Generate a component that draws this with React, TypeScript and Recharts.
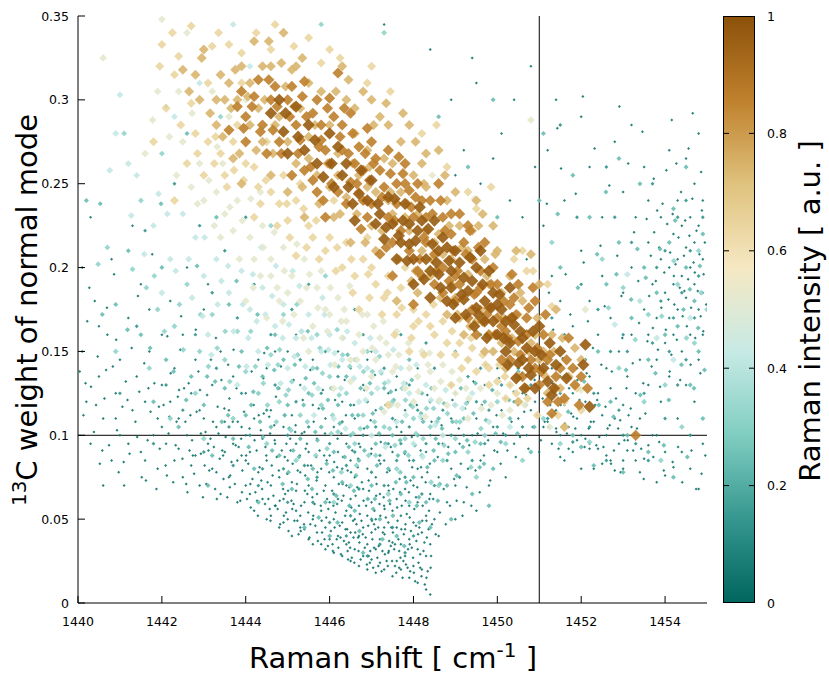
import { ScatterChart, Scatter, XAxis, YAxis, ReferenceLine } from "recharts";

// axis ticks
const xTicks = [1440, 1442, 1444, 1446, 1448, 1450, 1452, 1454];
const yTicks = [0, 0.05, 0.1, 0.15, 0.2, 0.25, 0.3, 0.35];
const cbTicks = [0, 0.2, 0.4, 0.6, 0.8, 1];
const markShift = 1451;
const markWeight = 0.1;

// points as flat x,y lists, grouped by Raman intensity level
const dotsA = [
  1440.1,0.150, 1440.2,0.120, 1440.3,0.095, 1440.4,0.180, 1440.5,0.135, 1440.6,0.110, 1440.7,0.160, 1440.8,0.085,
  1440.9,0.125, 1441.0,0.145, 1441.0,0.100, 1441.1,0.070, 1441.2,0.170, 1441.3,0.115, 1441.4,0.135, 1441.5,0.090,
  1441.5,0.190, 1441.6,0.120, 1441.7,0.150, 1441.8,0.100, 1441.9,0.080, 1442.0,0.130, 1442.0,0.160, 1440.3,0.230,
  1440.1,0.200, 1440.8,0.205, 1441.3,0.225, 1440.6,0.070, 1441.7,0.175, 1441.9,0.110, 1440.9,0.110, 1441.2,0.095,
  1441.6,0.085, 1440.5,0.165,
  1442.1,0.095, 1442.2,0.120, 1442.3,0.085, 1442.3,0.140, 1442.4,0.110, 1442.5,0.075, 1442.5,0.160, 1442.6,0.100,
  1442.7,0.125, 1442.8,0.088, 1442.8,0.145, 1442.9,0.070, 1443.0,0.110, 1443.0,0.175, 1443.1,0.095, 1443.2,0.130,
  1443.2,0.080, 1443.3,0.105, 1443.4,0.065, 1443.4,0.150, 1443.5,0.090, 1443.6,0.115, 1443.6,0.075, 1443.7,0.135,
  1443.8,0.085, 1443.8,0.060, 1443.9,0.105, 1444.0,0.070, 1444.0,0.125, 1442.2,0.180, 1442.6,0.200, 1443.1,0.190,
  1442.9,0.115, 1443.5,0.108, 1442.4,0.092, 1443.7,0.095, 1442.7,0.082, 1443.3,0.078, 1443.9,0.088, 1442.0,0.105,
  1444.0,0.100,
  1444.1,0.065, 1444.1,0.090, 1444.2,0.110, 1444.2,0.055, 1444.3,0.078, 1444.3,0.125, 1444.4,0.062, 1444.4,0.098,
  1444.5,0.050, 1444.5,0.085, 1444.5,0.140, 1444.6,0.070, 1444.6,0.115, 1444.7,0.058, 1444.7,0.095, 1444.8,0.045,
  1444.8,0.075, 1444.8,0.128, 1444.9,0.062, 1444.9,0.105, 1445.0,0.050, 1445.0,0.085, 1445.0,0.150, 1445.1,0.040,
  1445.1,0.072, 1445.1,0.112, 1445.2,0.055, 1445.2,0.095, 1445.3,0.045, 1445.3,0.078, 1445.3,0.130, 1445.4,0.060,
  1445.4,0.102, 1445.5,0.038, 1445.5,0.070, 1445.5,0.090, 1445.6,0.050, 1445.6,0.118, 1445.7,0.042, 1445.7,0.065,
  1445.7,0.098, 1445.8,0.035, 1445.8,0.055, 1445.8,0.080, 1445.9,0.045, 1445.9,0.070, 1445.9,0.110, 1446.0,0.038,
  1446.0,0.060, 1446.0,0.088, 1444.3,0.145, 1444.7,0.150, 1445.2,0.160, 1445.6,0.145, 1444.0,0.085, 1444.9,0.048,
  1445.4,0.044, 1445.6,0.035, 1445.2,0.067, 1445.9,0.032, 1444.6,0.052, 1445.3,0.052,
  1446.1,0.030, 1446.1,0.050, 1446.1,0.075, 1446.1,0.105, 1446.2,0.040, 1446.2,0.062, 1446.2,0.090, 1446.3,0.028,
  1446.3,0.048, 1446.3,0.080, 1446.3,0.120, 1446.4,0.035, 1446.4,0.055, 1446.4,0.070, 1446.4,0.095, 1446.5,0.025,
  1446.5,0.042, 1446.5,0.062, 1446.5,0.085, 1446.5,0.140, 1446.6,0.032, 1446.6,0.050, 1446.6,0.075, 1446.6,0.110,
  1446.7,0.022, 1446.7,0.040, 1446.7,0.058, 1446.7,0.095, 1446.8,0.028, 1446.8,0.045, 1446.8,0.068, 1446.8,0.130,
  1446.9,0.020, 1446.9,0.035, 1446.9,0.052, 1446.9,0.080, 1447.0,0.026, 1447.0,0.042, 1447.0,0.060, 1447.0,0.092,
  1447.1,0.018, 1447.1,0.032, 1447.1,0.050, 1447.1,0.075, 1447.1,0.115, 1447.2,0.024, 1447.2,0.038, 1447.2,0.065,
  1447.2,0.100, 1447.3,0.020, 1447.3,0.045, 1447.3,0.058, 1447.3,0.085, 1447.4,0.030, 1447.4,0.048, 1447.4,0.070,
  1447.4,0.125, 1447.5,0.016, 1447.5,0.036, 1447.5,0.055, 1447.5,0.090, 1447.6,0.025, 1447.6,0.045, 1447.6,0.062,
  1447.6,0.105, 1447.7,0.020, 1447.7,0.035, 1447.7,0.052, 1447.7,0.078, 1447.8,0.028, 1447.8,0.044, 1447.8,0.068,
  1447.8,0.115, 1447.9,0.015, 1447.9,0.038, 1447.9,0.058, 1447.9,0.085, 1448.0,0.022, 1448.0,0.048, 1448.0,0.070,
  1448.0,0.095, 1448.1,0.012, 1448.1,0.032, 1448.1,0.060, 1448.1,0.080, 1448.2,0.020, 1448.2,0.042, 1448.2,0.075,
  1448.2,0.110, 1448.3,0.008, 1448.3,0.028, 1448.3,0.052, 1448.3,0.090, 1448.4,0.005, 1448.4,0.035, 1448.4,0.065,
  1448.4,0.100, 1446.2,0.150, 1446.9,0.145, 1447.6,0.135, 1448.1,0.140, 1447.0,0.150,
  1448.5,0.050, 1448.6,0.075, 1448.6,0.040, 1448.7,0.095, 1448.8,0.060, 1448.9,0.080, 1448.9,0.110, 1449.0,0.050,
  1449.0,0.070, 1449.1,0.095, 1449.2,0.060, 1449.3,0.080, 1449.3,0.120, 1449.4,0.100, 1449.5,0.055, 1449.5,0.110,
  1449.6,0.085, 1449.7,0.130, 1449.8,0.070, 1449.9,0.105, 1450.0,0.090, 1450.0,0.140, 1450.1,0.115, 1450.2,0.075,
  1450.3,0.130, 1450.4,0.095, 1450.5,0.110, 1450.6,0.125, 1450.7,0.100, 1450.8,0.115, 1450.9,0.120, 1449.2,0.270,
  1449.6,0.250, 1449.9,0.265, 1450.3,0.240, 1450.6,0.230, 1450.9,0.260, 1450.4,0.300, 1449.5,0.310, 1448.9,0.300,
  1450.8,0.320, 1450.1,0.280, 1449.0,0.255, 1450.7,0.205, 1447.3,0.345, 1448.4,0.330, 1449.4,0.325,
  1451.1,0.105, 1451.1,0.150, 1451.2,0.108, 1451.2,0.125, 1451.3,0.095, 1451.3,0.140, 1451.4,0.104, 1451.4,0.115,
  1451.5,0.100, 1451.5,0.135, 1451.6,0.085, 1451.6,0.118, 1451.7,0.092, 1451.7,0.105, 1451.8,0.125, 1451.8,0.090,
  1451.9,0.110, 1451.9,0.140, 1452.0,0.080, 1452.0,0.100, 1452.1,0.120, 1452.1,0.098, 1452.2,0.095, 1452.2,0.135,
  1452.3,0.108, 1452.3,0.080, 1452.4,0.125, 1452.4,0.092, 1452.5,0.083, 1452.5,0.112, 1452.6,0.100, 1452.6,0.140,
  1452.7,0.085, 1452.7,0.128, 1452.8,0.110, 1452.8,0.079, 1452.9,0.095, 1452.9,0.150, 1453.0,0.118, 1453.0,0.080,
  1453.1,0.135, 1453.1,0.091, 1453.2,0.105, 1453.2,0.160, 1453.3,0.125, 1453.3,0.085, 1453.4,0.145, 1453.4,0.110,
  1453.5,0.175, 1453.5,0.086, 1453.6,0.160, 1453.6,0.130, 1453.7,0.190, 1453.7,0.100, 1453.8,0.170, 1453.8,0.145,
  1453.9,0.205, 1453.9,0.120, 1454.0,0.185, 1454.0,0.155, 1454.0,0.090, 1454.1,0.200, 1454.1,0.170, 1454.1,0.135,
  1454.2,0.220, 1454.2,0.190, 1454.2,0.160, 1454.3,0.205, 1454.3,0.175, 1454.3,0.110, 1454.4,0.225, 1454.4,0.195,
  1454.4,0.150, 1454.5,0.212, 1454.5,0.182, 1454.5,0.130, 1454.6,0.230, 1454.6,0.200, 1454.6,0.160, 1454.7,0.215,
  1454.7,0.190, 1454.7,0.120, 1454.8,0.225, 1454.8,0.175, 1454.8,0.145, 1454.9,0.205, 1454.9,0.185, 1454.9,0.160,
  1453.6,0.215, 1453.9,0.230, 1454.3,0.240, 1454.7,0.250, 1453.2,0.200, 1453.0,0.185, 1452.7,0.170, 1452.4,0.160,
  1452.2,0.180, 1451.8,0.165, 1451.5,0.180, 1451.3,0.195, 1452.0,0.210, 1452.5,0.230, 1453.0,0.245, 1453.5,0.260,
  1454.1,0.270, 1454.8,0.280, 1452.8,0.275, 1452.2,0.260, 1451.6,0.240, 1451.2,0.270, 1451.4,0.300, 1452.0,0.290,
  1453.2,0.285, 1451.1,0.225, 1453.0,0.085, 1453.4,0.078, 1453.8,0.072, 1454.2,0.081, 1454.6,0.080, 1454.9,0.095,
  1452.6,0.088, 1452.2,0.092, 1451.9,0.097, 1454.4,0.090, 1454.0,0.076, 1453.6,0.094, 1451.5,0.087, 1454.8,0.068,
  1451.0,0.090, 1451.0,0.130, 1452.5,0.195, 1453.3,0.230, 1453.6,0.240, 1454.9,0.240, 1454.5,0.265, 1453.8,0.100,
];

const dotsA2 = [
  1440.04,0.138, 1440.13,0.112, 1440.22,0.168, 1440.31,0.129, 1440.38,0.102, 1440.47,0.147, 1440.52,0.083, 1440.63,0.122,
  1440.69,0.176, 1440.74,0.094, 1440.83,0.141, 1440.91,0.157, 1440.97,0.078, 1441.06,0.117, 1441.14,0.132, 1441.23,0.089,
  1441.28,0.152, 1441.37,0.108, 1441.46,0.126, 1441.52,0.075, 1441.58,0.143, 1441.66,0.097, 1441.73,0.114, 1441.82,0.131,
  1441.87,0.068, 1441.95,0.092, 1440.27,0.188, 1440.86,0.196, 1441.43,0.183, 1441.77,0.208,
  1442.04,0.118, 1442.09,0.082, 1442.16,0.101, 1442.21,0.137, 1442.27,0.072, 1442.33,0.094, 1442.38,0.123, 1442.44,0.151,
  1442.49,0.086, 1442.56,0.108, 1442.61,0.066, 1442.64,0.131, 1442.72,0.097, 1442.77,0.077, 1442.83,0.114, 1442.87,0.138,
  1442.93,0.089, 1442.98,0.063, 1443.04,0.102, 1443.08,0.124, 1443.13,0.079, 1443.17,0.145, 1443.24,0.093, 1443.27,0.068,
  1443.33,0.117, 1443.38,0.086, 1443.42,0.133, 1443.47,0.074, 1443.52,0.099, 1443.56,0.063, 1443.61,0.122, 1443.66,0.084,
  1443.69,0.108, 1443.74,0.071, 1443.78,0.128, 1443.83,0.093, 1443.87,0.061, 1443.92,0.079, 1443.96,0.114, 1442.46,0.171,
  1442.81,0.163, 1443.29,0.158, 1443.71,0.151, 1442.13,0.159, 1443.58,0.142, 1443.02,0.082, 1442.68,0.112, 1442.35,0.108,
  1443.44,0.091, 1443.89,0.098, 1443.22,0.108, 1442.91,0.127, 1442.53,0.128, 1443.63,0.076, 1443.11,0.091, 1442.74,0.088,
  1443.35,0.101, 1443.81,0.108, 1443.49,0.116,
  1444.03,0.062, 1444.06,0.083, 1444.09,0.104, 1444.12,0.057, 1444.16,0.074, 1444.19,0.118, 1444.23,0.066, 1444.26,0.091,
  1444.29,0.052, 1444.33,0.081, 1444.36,0.103, 1444.39,0.068, 1444.42,0.134, 1444.46,0.059, 1444.49,0.088, 1444.52,0.072,
  1444.56,0.111, 1444.59,0.049, 1444.62,0.082, 1444.66,0.064, 1444.69,0.097, 1444.72,0.123, 1444.76,0.056, 1444.79,0.079,
  1444.82,0.047, 1444.86,0.091, 1444.89,0.068, 1444.92,0.112, 1444.96,0.054, 1444.99,0.077, 1445.02,0.043, 1445.06,0.098,
  1445.09,0.061, 1445.12,0.083, 1445.16,0.049, 1445.19,0.106, 1445.22,0.071, 1445.26,0.041, 1445.29,0.088, 1445.32,0.058,
  1445.36,0.121, 1445.39,0.047, 1445.42,0.076, 1445.46,0.095, 1445.49,0.054, 1445.52,0.039, 1445.56,0.082, 1445.59,0.063,
  1445.62,0.108, 1445.66,0.046, 1445.69,0.073, 1445.72,0.037, 1445.76,0.091, 1445.79,0.058, 1445.82,0.042, 1445.86,0.067,
  1445.89,0.101, 1445.92,0.051, 1445.96,0.034, 1445.99,0.078, 1444.14,0.138, 1444.44,0.149, 1444.84,0.141, 1445.14,0.133,
  1445.54,0.139, 1445.84,0.127, 1444.58,0.101, 1444.97,0.095, 1445.34,0.101, 1445.74,0.116, 1444.31,0.112, 1444.71,0.058,
  1445.11,0.056, 1445.47,0.065, 1445.87,0.088, 1445.23,0.049, 1445.61,0.052, 1445.94,0.062, 1444.94,0.065, 1444.54,0.062,
  1446.03,0.043, 1446.06,0.067, 1446.08,0.031, 1446.11,0.084, 1446.14,0.054, 1446.17,0.038, 1446.19,0.098, 1446.22,0.071,
  1446.24,0.046, 1446.27,0.029, 1446.29,0.061, 1446.32,0.087, 1446.34,0.037, 1446.37,0.052, 1446.39,0.112, 1446.42,0.044,
  1446.44,0.026, 1446.47,0.069, 1446.49,0.033, 1446.52,0.057, 1446.54,0.091, 1446.57,0.039, 1446.59,0.024, 1446.62,0.064,
  1446.64,0.047, 1446.67,0.081, 1446.69,0.031, 1446.72,0.053, 1446.74,0.026, 1446.77,0.072, 1446.79,0.041, 1446.82,0.104,
  1446.84,0.033, 1446.87,0.058, 1446.89,0.023, 1446.92,0.046, 1446.94,0.067, 1446.97,0.031, 1446.99,0.089, 1447.02,0.038,
  1447.04,0.021, 1447.07,0.055, 1447.09,0.044, 1447.12,0.071, 1447.14,0.027, 1447.17,0.034, 1447.19,0.059, 1447.22,0.096,
  1447.24,0.019, 1447.27,0.042, 1447.29,0.063, 1447.32,0.029, 1447.34,0.051, 1447.37,0.078, 1447.39,0.022, 1447.42,0.037,
  1447.44,0.059, 1447.47,0.045, 1447.49,0.025, 1447.52,0.068, 1447.54,0.032, 1447.57,0.109, 1447.59,0.018, 1447.62,0.049,
  1447.64,0.038, 1447.67,0.074, 1447.69,0.027, 1447.72,0.058, 1447.74,0.015, 1447.77,0.041, 1447.79,0.089, 1447.82,0.023,
  1447.84,0.053, 1447.87,0.032, 1447.89,0.066, 1447.92,0.019, 1447.94,0.043, 1447.97,0.081, 1447.99,0.027, 1448.02,0.056,
  1448.04,0.013, 1448.07,0.037, 1448.09,0.069, 1448.12,0.024, 1448.14,0.045, 1448.17,0.091, 1448.19,0.016, 1448.22,0.058,
  1448.24,0.031, 1448.27,0.011, 1448.29,0.072, 1448.32,0.039, 1448.34,0.019, 1448.37,0.055, 1448.39,0.083, 1448.42,0.028,
  1448.44,0.047, 1446.13,0.121, 1446.36,0.133, 1446.58,0.118, 1446.83,0.127, 1447.08,0.136, 1447.33,0.118, 1447.58,0.127,
  1447.83,0.131, 1448.08,0.118, 1448.33,0.124, 1446.28,0.101, 1446.51,0.078, 1446.73,0.093, 1446.98,0.109, 1447.21,0.083,
  1447.46,0.093, 1447.71,0.102, 1447.96,0.099, 1448.21,0.088, 1448.43,0.108, 1446.09,0.058, 1446.33,0.064, 1446.56,0.049,
  1446.81,0.061, 1447.06,0.047, 1447.31,0.056, 1447.56,0.035, 1447.81,0.047, 1448.06,0.046, 1448.31,0.049, 1446.21,0.033,
  1446.46,0.036, 1446.68,0.039, 1446.93,0.028, 1447.16,0.045, 1447.41,0.031, 1447.66,0.021, 1447.91,0.035, 1448.16,0.029,
  1448.41,0.021,
  1448.47,0.062, 1448.53,0.041, 1448.58,0.087, 1448.63,0.054, 1448.67,0.106, 1448.72,0.068, 1448.77,0.047, 1448.83,0.093,
  1448.87,0.058, 1448.93,0.121, 1448.97,0.074, 1449.03,0.061, 1449.08,0.104, 1449.13,0.083, 1449.17,0.052, 1449.23,0.116,
  1449.27,0.069, 1449.33,0.094, 1449.38,0.058, 1449.43,0.132, 1449.48,0.079, 1449.53,0.101, 1449.58,0.066, 1449.63,0.118,
  1449.68,0.088, 1449.73,0.142, 1449.78,0.097, 1449.83,0.073, 1449.88,0.127, 1449.93,0.091, 1449.98,0.112, 1450.04,0.134,
  1450.08,0.083, 1450.14,0.101, 1450.19,0.122, 1450.24,0.091, 1450.29,0.142, 1450.34,0.108, 1450.39,0.126, 1450.44,0.087,
  1450.49,0.118, 1450.54,0.099, 1450.59,0.137, 1450.64,0.114, 1450.69,0.124, 1450.74,0.092, 1450.79,0.138, 1450.84,0.105,
  1450.89,0.133, 1450.94,0.112,
  1453.62,0.183, 1453.66,0.207, 1453.71,0.164, 1453.74,0.221, 1453.78,0.192, 1453.83,0.151, 1453.86,0.212, 1453.91,0.176,
  1453.94,0.238, 1453.98,0.197, 1454.02,0.163, 1454.05,0.226, 1454.08,0.181, 1454.12,0.209, 1454.15,0.148, 1454.18,0.232,
  1454.22,0.178, 1454.25,0.202, 1454.28,0.157, 1454.32,0.218, 1454.35,0.188, 1454.38,0.245, 1454.42,0.171, 1454.45,0.207,
  1454.48,0.228, 1454.52,0.165, 1454.55,0.193, 1454.58,0.219, 1454.62,0.176, 1454.65,0.241, 1454.68,0.203, 1454.72,0.158,
  1454.75,0.222, 1454.78,0.186, 1454.82,0.208, 1454.85,0.171, 1454.88,0.234, 1454.92,0.196, 1454.95,0.215, 1454.98,0.178,
  1453.68,0.141, 1453.88,0.129, 1454.11,0.138, 1454.36,0.133, 1454.61,0.142, 1454.84,0.137, 1453.73,0.253, 1454.03,0.258,
  1454.27,0.262, 1454.56,0.271, 1454.86,0.257, 1453.56,0.229, 1453.81,0.234, 1454.21,0.195, 1454.46,0.186, 1454.71,0.197,
  1454.91,0.162,
  1451.04,0.097, 1451.08,0.122, 1451.13,0.108, 1451.17,0.143, 1451.22,0.105, 1451.26,0.118, 1451.31,0.131, 1451.36,0.114,
  1451.41,0.102, 1451.46,0.092, 1451.51,0.118, 1451.56,0.146, 1451.61,0.107, 1451.66,0.101, 1451.71,0.128, 1451.76,0.113,
  1451.81,0.111, 1451.86,0.104, 1451.91,0.133, 1451.96,0.121, 1452.03,0.116, 1452.08,0.093, 1452.13,0.137, 1452.18,0.104,
  1452.23,0.108, 1452.28,0.152, 1452.33,0.118, 1452.38,0.121, 1452.43,0.099, 1452.48,0.142, 1452.53,0.093, 1452.58,0.117,
  1452.63,0.104, 1452.68,0.106, 1452.73,0.138, 1452.78,0.091, 1452.83,0.122, 1452.88,0.104, 1452.93,0.109, 1452.98,0.158,
  1453.03,0.097, 1453.08,0.128, 1453.13,0.112, 1453.18,0.116, 1453.23,0.143, 1453.28,0.101, 1453.33,0.104, 1453.38,0.167,
  1453.43,0.092, 1453.48,0.131, 1453.53,0.113, 1453.58,0.156, 1451.33,0.163, 1451.74,0.172, 1452.16,0.168, 1452.56,0.177,
  1452.96,0.183, 1453.36,0.192, 1451.23,0.185, 1451.63,0.196, 1452.06,0.203, 1452.46,0.213, 1452.86,0.207, 1453.26,0.221,
  1451.18,0.238, 1451.52,0.259, 1451.87,0.244, 1452.32,0.271, 1452.67,0.249, 1453.12,0.262, 1453.46,0.281, 1452.04,0.302,
  1451.43,0.283, 1452.91,0.296, 1454.16,0.288, 1454.66,0.292,
  1452.71,0.083, 1452.94,0.078, 1453.24,0.091, 1453.49,0.074, 1453.72,0.087, 1453.97,0.079, 1454.18,0.084, 1454.41,0.072,
  1454.63,0.091, 1454.87,0.077, 1453.86,0.096, 1454.31,0.093, 1454.74,0.068, 1452.36,0.094, 1453.11,0.097, 1454.96,0.088,
];

const dotsA3 = [
  1443.06,0.071, 1443.16,0.098, 1443.31,0.062, 1443.46,0.088, 1443.62,0.069, 1443.76,0.094, 1443.91,0.066, 1444.01,0.088,
  1444.11,0.071, 1444.21,0.097, 1444.27,0.061, 1444.37,0.073, 1444.47,0.093, 1444.57,0.056, 1444.64,0.076, 1444.74,0.087,
  1444.81,0.061, 1444.91,0.052, 1445.01,0.067, 1445.07,0.091, 1445.14,0.059, 1445.24,0.079, 1445.31,0.043, 1445.41,0.067,
  1445.48,0.082, 1445.54,0.047, 1445.64,0.059, 1445.71,0.078, 1445.81,0.049, 1445.88,0.038, 1445.97,0.056, 1446.07,0.035,
  1446.12,0.045, 1446.18,0.059, 1446.26,0.039, 1446.31,0.071, 1446.38,0.044, 1446.43,0.031, 1446.48,0.058, 1446.53,0.027,
  1446.61,0.042, 1446.66,0.069, 1446.71,0.036, 1446.76,0.049, 1446.86,0.039, 1446.91,0.062, 1446.96,0.024, 1447.01,0.049,
  1447.06,0.033, 1447.11,0.064, 1447.16,0.022, 1447.21,0.052, 1447.26,0.031, 1447.31,0.041, 1447.36,0.025, 1447.41,0.067,
  1447.46,0.034, 1447.51,0.042, 1447.56,0.022, 1447.61,0.057, 1447.66,0.031, 1447.71,0.044, 1447.76,0.025, 1447.81,0.061,
  1447.86,0.021, 1447.91,0.051, 1447.96,0.033, 1448.01,0.018, 1448.06,0.063, 1448.11,0.041, 1448.16,0.021, 1448.21,0.049,
  1448.26,0.036, 1448.31,0.015, 1448.36,0.044, 1448.38,0.062, 1448.33,0.078, 1448.18,0.081, 1447.93,0.073, 1447.68,0.066,
  1447.43,0.079, 1447.18,0.085, 1446.93,0.073, 1446.68,0.086, 1446.43,0.079, 1446.18,0.081, 1445.93,0.085, 1445.68,0.087,
  1445.43,0.092, 1445.18,0.102, 1444.93,0.087, 1444.68,0.106, 1444.43,0.113, 1440.18,0.131, 1440.43,0.118, 1440.67,0.139,
  1440.93,0.103, 1441.18,0.121, 1441.41,0.099, 1441.68,0.128, 1441.93,0.117, 1442.18,0.111, 1442.41,0.127, 1442.66,0.091,
  1442.93,0.101, 1440.58,0.091, 1441.09,0.084, 1441.62,0.073, 1442.12,0.076, 1442.58,0.071,
];

const dotsB = [
  1441.0,0.125, 1441.4,0.165, 1441.8,0.095, 1442.1,0.130, 1442.5,0.115, 1442.8,0.160, 1443.0,0.090, 1443.3,0.140,
  1443.6,0.105, 1443.9,0.125, 1444.1,0.100, 1444.3,0.070, 1444.5,0.115, 1444.7,0.130, 1444.9,0.080, 1445.0,0.100,
  1445.2,0.120, 1445.4,0.082, 1445.5,0.105, 1445.7,0.075, 1445.8,0.125, 1446.0,0.095, 1446.1,0.065, 1446.3,0.108,
  1446.4,0.082, 1446.5,0.118, 1446.6,0.090, 1446.7,0.068, 1446.8,0.100, 1446.9,0.120, 1447.0,0.078, 1447.1,0.105,
  1447.2,0.088, 1447.3,0.070, 1447.4,0.095, 1447.5,0.110, 1447.6,0.085, 1447.7,0.095, 1447.8,0.075, 1447.9,0.105,
  1448.0,0.085, 1448.1,0.115, 1448.2,0.065, 1448.3,0.095, 1448.4,0.120, 1448.5,0.070, 1448.6,0.095, 1448.7,0.115,
  1448.8,0.085, 1448.9,0.100, 1449.0,0.125, 1449.1,0.075, 1449.2,0.100, 1449.3,0.135, 1449.4,0.085, 1449.5,0.120,
  1449.6,0.140, 1449.7,0.095, 1449.8,0.115, 1450.0,0.105, 1450.1,0.130, 1450.2,0.100, 1450.4,0.120, 1450.5,0.140,
  1450.6,0.105, 1450.8,0.130, 1450.9,0.145, 1446.2,0.135, 1445.9,0.150, 1445.3,0.145, 1444.6,0.160, 1443.8,0.170,
  1443.2,0.185, 1447.3,0.140, 1447.9,0.130, 1448.5,0.140, 1449.0,0.150, 1446.8,0.160, 1445.1,0.175, 1444.2,0.190,
  1443.5,0.210, 1442.9,0.225, 1442.3,0.250, 1441.6,0.222, 1444.0,0.230, 1445.5,0.190, 1446.6,0.175, 1447.7,0.160,
  1448.3,0.155, 1449.6,0.160, 1450.3,0.155,
  1451.2,0.110, 1451.5,0.125, 1451.8,0.096, 1452.1,0.145, 1452.3,0.125, 1452.6,0.085, 1452.9,0.115, 1453.1,0.150,
  1453.3,0.095, 1453.5,0.125, 1453.7,0.155, 1453.9,0.180, 1454.0,0.210, 1454.2,0.170, 1454.3,0.230, 1454.4,0.185,
  1454.5,0.145, 1454.6,0.210, 1454.7,0.170, 1454.8,0.195, 1454.9,0.230, 1454.1,0.150, 1453.8,0.200, 1453.4,0.180,
  1453.0,0.160, 1452.7,0.150, 1452.4,0.175, 1452.0,0.190, 1451.6,0.160, 1451.3,0.170, 1453.2,0.215, 1452.8,0.230,
  1453.7,0.250, 1454.5,0.240, 1451.9,0.230, 1452.6,0.260, 1451.5,0.285, 1454.0,0.110, 1454.6,0.100, 1453.0,0.100,
  1452.2,0.105, 1454.3,0.130, 1453.6,0.085,
  1445.0,0.060, 1445.6,0.060, 1446.0,0.048, 1446.5,0.052, 1447.0,0.050, 1447.5,0.045, 1448.0,0.040, 1446.4,0.040,
  1447.2,0.035, 1447.8,0.030, 1446.9,0.028, 1444.4,0.080, 1443.7,0.082,
];

const plusC = [
  1440.2,0.240, 1440.9,0.178, 1441.5,0.160, 1441.8,0.120, 1442.1,0.145, 1442.4,0.105, 1442.7,0.135, 1443.0,0.118,
  1443.2,0.088, 1443.5,0.128, 1443.7,0.098, 1444.0,0.112, 1444.2,0.080, 1444.4,0.135, 1444.6,0.105, 1444.8,0.088,
  1445.0,0.118, 1445.1,0.068, 1445.3,0.098, 1445.5,0.125, 1445.6,0.080, 1445.8,0.105, 1445.9,0.060, 1446.1,0.090,
  1446.2,0.118, 1446.3,0.072, 1446.5,0.100, 1446.6,0.055, 1446.7,0.085, 1446.9,0.105, 1447.0,0.070, 1447.1,0.095,
  1447.2,0.050, 1447.4,0.080, 1447.5,0.100, 1447.7,0.065, 1447.8,0.090, 1448.0,0.075, 1448.1,0.100, 1448.3,0.060,
  1448.5,0.085, 1448.6,0.110, 1448.8,0.070, 1449.0,0.090, 1449.2,0.110, 1449.4,0.065, 1449.6,0.095, 1449.9,0.080,
  1450.3,0.110, 1450.8,0.090, 1443.9,0.150, 1444.9,0.145, 1445.7,0.140, 1446.4,0.135, 1447.3,0.128, 1448.2,0.125,
  1448.9,0.130, 1449.7,0.120, 1441.2,0.210, 1442.6,0.280, 1442.1,0.296, 1443.3,0.230, 1442.0,0.200, 1443.6,0.178,
  1444.7,0.160, 1446.6,0.145, 1447.9,0.145, 1449.3,0.145, 1450.5,0.138, 1450.0,0.230, 1449.3,0.260, 1449.9,0.300,
  1448.6,0.290, 1451.1,0.280, 1451.0,0.240, 1451.5,0.200, 1451.8,0.255, 1452.2,0.230, 1452.6,0.190, 1452.9,0.215,
  1453.2,0.170, 1453.5,0.200, 1453.8,0.185, 1454.1,0.215, 1454.3,0.165, 1454.5,0.200, 1454.7,0.180, 1454.9,0.220,
  1454.2,0.235, 1453.6,0.145, 1454.0,0.160, 1454.6,0.130, 1454.8,0.150, 1452.4,0.150, 1452.7,0.120, 1453.1,0.100,
  1453.6,0.090, 1454.2,0.075, 1451.8,0.100, 1452.0,0.093, 1452.3,0.082, 1453.0,0.078, 1451.3,0.112, 1451.6,0.135,
  1452.9,0.265, 1453.4,0.250, 1454.5,0.260, 1454.9,0.110, 1445.4,0.045, 1446.0,0.040, 1446.8,0.030, 1447.6,0.040,
  1448.4,0.045, 1444.3,0.060, 1443.1,0.070, 1448.9,0.050, 1449.8,0.058,
];

const plusC2 = [
  1443.27,0.132, 1443.58,0.112, 1443.84,0.141, 1444.07,0.093, 1444.18,0.126, 1444.34,0.108, 1444.51,0.152, 1444.63,0.091,
  1444.77,0.128, 1444.88,0.071, 1445.04,0.104, 1445.17,0.142, 1445.27,0.087, 1445.38,0.118, 1445.48,0.074, 1445.63,0.131,
  1445.71,0.097, 1445.84,0.116, 1445.93,0.083, 1446.04,0.128, 1446.16,0.064, 1446.24,0.107, 1446.36,0.087, 1446.43,0.148,
  1446.54,0.112, 1446.63,0.076, 1446.74,0.128, 1446.83,0.091, 1446.91,0.062, 1447.03,0.113, 1447.13,0.082, 1447.23,0.137,
  1447.33,0.095, 1447.43,0.061, 1447.53,0.121, 1447.63,0.088, 1447.73,0.108, 1447.83,0.072, 1447.93,0.118, 1448.03,0.094,
  1448.13,0.063, 1448.23,0.108, 1448.33,0.081, 1448.43,0.128, 1448.53,0.098, 1448.63,0.071, 1448.73,0.119, 1448.83,0.089,
  1448.93,0.108, 1449.03,0.076, 1449.13,0.128, 1449.28,0.097, 1449.43,0.113, 1449.58,0.081, 1449.73,0.109, 1449.88,0.127,
  1450.08,0.096, 1450.28,0.121, 1450.48,0.101, 1450.68,0.118, 1450.88,0.105, 1446.19,0.048, 1446.71,0.043, 1447.26,0.038,
  1447.78,0.034, 1447.04,0.056, 1446.47,0.058, 1445.74,0.051, 1448.14,0.048, 1447.51,0.052,
  1451.37,0.126, 1451.69,0.114, 1452.07,0.132, 1452.42,0.118, 1452.77,0.111, 1453.07,0.139, 1453.41,0.124, 1453.77,0.137,
  1454.09,0.121, 1454.39,0.142, 1454.69,0.128, 1454.94,0.139, 1453.54,0.194, 1453.88,0.211, 1454.24,0.228, 1454.59,0.187,
  1454.83,0.201, 1453.19,0.181, 1452.84,0.196, 1452.38,0.208, 1451.92,0.188, 1451.44,0.232, 1452.59,0.245, 1453.34,0.211,
  1454.44,0.175, 1454.79,0.164, 1453.97,0.094, 1454.53,0.087,
  1444.13,0.118, 1444.41,0.099, 1444.68,0.139, 1444.93,0.112, 1445.13,0.091, 1445.43,0.134, 1445.66,0.102, 1445.96,0.121,
  1446.21,0.141, 1446.46,0.093, 1446.68,0.112, 1446.96,0.131, 1447.18,0.101, 1447.46,0.126, 1447.68,0.097, 1447.96,0.133,
  1448.18,0.113, 1448.48,0.091, 1448.68,0.104, 1448.98,0.118, 1449.18,0.093, 1449.48,0.131, 1449.68,0.083, 1449.96,0.101,
  1445.02,0.078, 1445.58,0.068, 1446.08,0.079, 1446.58,0.067, 1447.08,0.062, 1447.58,0.072, 1448.08,0.058, 1448.58,0.061,
  1443.43,0.108, 1443.08,0.135, 1442.58,0.121, 1442.28,0.138, 1441.72,0.152, 1441.18,0.163, 1440.58,0.172, 1446.33,0.158,
  1445.48,0.162, 1444.28,0.172, 1443.78,0.192, 1442.84,0.201, 1441.98,0.238, 1440.53,0.238,
];

const tealD = [
  1440.7,0.212, 1441.3,0.199, 1441.5,0.240, 1441.9,0.175, 1442.3,0.165, 1442.6,0.190, 1442.9,0.150, 1443.2,0.172,
  1443.5,0.145, 1443.8,0.162, 1444.0,0.138, 1444.3,0.125, 1444.6,0.148, 1444.8,0.120, 1445.1,0.132, 1445.3,0.112,
  1445.6,0.140, 1445.8,0.118, 1446.0,0.135, 1446.2,0.102, 1446.4,0.125, 1446.6,0.095, 1446.8,0.112, 1447.0,0.125,
  1447.1,0.088, 1447.3,0.105, 1447.5,0.120, 1447.6,0.080, 1447.8,0.098, 1448.0,0.110, 1448.2,0.088, 1448.4,0.105,
  1448.7,0.085, 1449.0,0.098, 1449.3,0.090, 1449.7,0.100, 1450.2,0.095, 1441.1,0.280, 1442.0,0.268, 1443.4,0.290,
  1445.8,0.345, 1447.3,0.340, 1444.6,0.225, 1445.9,0.195, 1451.3,0.215, 1452.5,0.205, 1453.0,0.188, 1453.6,0.172,
  1454.0,0.130, 1454.3,0.190, 1454.7,0.155, 1452.9,0.140, 1453.5,0.120, 1454.4,0.105, 1452.2,0.096, 1451.5,0.095,
  1446.5,0.070, 1447.4,0.065, 1445.2,0.085, 1444.5,0.095, 1443.7,0.110, 1442.8,0.125, 1448.6,0.070, 1449.5,0.075,
  1450.6,0.085, 1445.7,0.160, 1444.9,0.172, 1446.9,0.150, 1440.9,0.150, 1441.7,0.140, 1442.2,0.110, 1443.0,0.098,
  1446.1,0.060, 1447.9,0.060, 1450.0,0.120, 1451.1,0.110, 1453.9,0.085, 1454.8,0.210, 1455.0,0.175,
  1444.23,0.141, 1444.52,0.118, 1444.81,0.151, 1445.08,0.103, 1445.33,0.162, 1445.58,0.124, 1445.83,0.137, 1446.07,0.112,
  1446.31,0.148, 1446.56,0.101, 1446.81,0.138, 1447.07,0.108, 1447.31,0.131, 1447.56,0.094, 1447.81,0.121, 1448.06,0.101,
  1448.31,0.116, 1448.56,0.108, 1448.81,0.113, 1449.11,0.108, 1449.47,0.096, 1443.51,0.162, 1443.11,0.141, 1442.51,0.151,
  1442.06,0.162, 1441.63,0.188, 1445.22,0.178, 1446.18,0.163, 1447.19,0.147, 1446.64,0.082, 1447.68,0.078, 1445.94,0.092,
  1444.96,0.124, 1453.29,0.157, 1453.92,0.171, 1454.51,0.158, 1452.65,0.176, 1454.21,0.204, 1454.86,0.185,
  1444.42,0.131, 1444.73,0.108, 1445.02,0.127, 1445.24,0.148, 1445.47,0.108, 1445.77,0.152, 1446.04,0.101, 1446.23,0.124,
  1446.48,0.141, 1446.73,0.104, 1447.02,0.138, 1447.23,0.116, 1447.43,0.104, 1447.73,0.128, 1447.98,0.117, 1448.23,0.098,
  1448.48,0.116, 1448.73,0.094, 1449.02,0.108, 1449.26,0.119, 1449.61,0.104, 1443.62,0.132, 1443.32,0.152, 1442.92,0.172,
  1442.42,0.178, 1441.82,0.195, 1440.48,0.202, 1444.12,0.162, 1444.77,0.142, 1445.67,0.088, 1446.28,0.078, 1446.93,0.088,
  1447.88,0.088, 1448.42,0.072, 1449.37,0.081,
];

const paleE = [
  1441.0,0.303, 1441.4,0.255, 1441.8,0.225, 1442.2,0.205, 1442.5,0.232, 1442.8,0.218, 1443.0,0.195, 1443.3,0.205,
  1443.6,0.185, 1443.9,0.198, 1444.1,0.175, 1444.4,0.188, 1444.7,0.165, 1444.9,0.178, 1445.2,0.158, 1445.5,0.172,
  1445.8,0.150, 1446.0,0.160, 1446.3,0.145, 1446.6,0.155, 1446.9,0.140, 1447.1,0.150, 1447.4,0.132, 1447.7,0.140,
  1447.9,0.125, 1448.3,0.130, 1448.6,0.120, 1449.0,0.118, 1449.4,0.125, 1449.8,0.108, 1450.3,0.105, 1442.9,0.310,
  1443.7,0.345, 1442.3,0.290, 1440.9,0.280, 1441.2,0.262, 1444.1,0.320, 1453.4,0.180, 1453.8,0.158, 1454.2,0.145,
  1454.6,0.170, 1452.8,0.166, 1453.1,0.196, 1444.3,0.150, 1445.0,0.140, 1446.1,0.110, 1447.0,0.100, 1448.0,0.095,
  1446.7,0.120, 1445.4,0.128, 1447.6,0.108, 1448.7,0.100, 1443.1,0.160, 1442.0,0.185, 1443.8,0.130,
  1443.33,0.178, 1443.71,0.162, 1444.06,0.158, 1444.53,0.142, 1444.88,0.158, 1445.16,0.147, 1445.42,0.141, 1445.73,0.128,
  1446.02,0.142, 1446.27,0.128, 1446.58,0.134, 1446.86,0.121, 1447.14,0.128, 1447.46,0.118, 1447.82,0.112, 1448.17,0.111,
  1448.52,0.106, 1441.58,0.208, 1442.13,0.232, 1442.64,0.205, 1443.02,0.218, 1443.58,0.201, 1444.26,0.168, 1444.63,0.183,
  1445.33,0.162, 1445.97,0.151,
  1443.42,0.192, 1443.93,0.178, 1444.17,0.196, 1444.47,0.172, 1444.72,0.201, 1445.03,0.166, 1445.28,0.189, 1445.57,0.158,
  1445.88,0.172, 1446.12,0.149, 1446.42,0.162, 1446.72,0.141, 1446.97,0.158, 1447.22,0.138, 1447.52,0.151, 1447.77,0.131,
  1448.07,0.142, 1448.42,0.121, 1448.77,0.127, 1449.17,0.116, 1442.72,0.182, 1442.33,0.198, 1441.92,0.244, 1441.27,0.231,
  1440.76,0.258, 1443.18,0.148, 1444.02,0.141, 1444.83,0.131, 1445.63,0.112, 1446.38,0.104, 1447.33,0.093, 1448.22,0.087,
  1442.97,0.171, 1444.37,0.212, 1445.12,0.198, 1445.83,0.182,
];

const creamF = [
  1440.6,0.325, 1442.0,0.348, 1441.6,0.268, 1442.7,0.248, 1442.9,0.262, 1443.3,0.245, 1443.5,0.232, 1443.8,0.240,
  1444.1,0.218, 1444.4,0.225, 1444.6,0.205, 1444.9,0.212, 1445.1,0.195, 1445.4,0.205, 1445.7,0.188, 1445.9,0.175,
  1446.2,0.182, 1446.4,0.168, 1446.7,0.160, 1446.9,0.172, 1447.2,0.158, 1447.4,0.148, 1447.6,0.162, 1447.9,0.140,
  1448.2,0.150, 1448.4,0.138, 1448.7,0.142, 1449.1,0.133, 1449.6,0.128, 1450.0,0.125, 1450.8,0.288, 1452.1,0.175,
  1452.0,0.127, 1446.1,0.128, 1447.3,0.114, 1443.2,0.305, 1443.6,0.290, 1444.0,0.300, 1442.4,0.305, 1443.4,0.218,
  1444.8,0.180, 1445.6,0.165, 1446.5,0.145, 1447.0,0.135, 1448.0,0.120, 1448.8,0.118, 1449.3,0.110, 1450.3,0.115,
  1443.0,0.240, 1443.7,0.222, 1444.2,0.205, 1444.6,0.195, 1445.0,0.185, 1445.3,0.180, 1445.8,0.198, 1446.0,0.172,
  1446.3,0.158, 1446.8,0.150, 1447.1,0.145, 1447.5,0.138, 1447.8,0.128, 1448.1,0.135, 1448.5,0.128, 1449.0,0.125,
  1444.0,0.180, 1444.5,0.170, 1445.5,0.150, 1446.5,0.132, 1442.5,0.275, 1441.9,0.305, 1442.6,0.340,
  1443.85,0.205, 1444.35,0.195, 1444.75,0.188, 1445.15,0.172, 1445.45,0.188, 1445.95,0.162, 1446.35,0.175, 1446.65,0.145,
  1447.05,0.165, 1447.35,0.155, 1447.65,0.148, 1448.35,0.142, 1448.65,0.132, 1449.25,0.128, 1449.85,0.118, 1443.25,0.225,
  1442.85,0.238, 1442.35,0.255, 1443.45,0.262, 1444.35,0.245, 1449.45,0.241, 1448.45,0.255, 1450.65,0.118, 1451.25,0.105,
  1443.12,0.252, 1443.62,0.236, 1443.92,0.228, 1444.12,0.241, 1444.42,0.212, 1444.68,0.221, 1444.92,0.198, 1445.22,0.214,
  1445.52,0.196, 1445.72,0.176, 1446.02,0.188, 1446.28,0.168, 1446.48,0.189, 1446.78,0.172, 1447.02,0.152, 1447.28,0.168,
  1447.58,0.141, 1447.88,0.155, 1448.12,0.126, 1448.38,0.149, 1448.62,0.121, 1448.92,0.138, 1449.32,0.122, 1449.62,0.116,
  1443.32,0.272, 1442.72,0.292, 1442.18,0.278, 1441.78,0.288, 1444.18,0.188, 1444.88,0.168, 1445.38,0.158, 1446.12,0.142,
  1446.88,0.128, 1447.62,0.118, 1448.28,0.111, 1450.12,0.112,
];

const tanG = [
  1442.0,0.333, 1442.4,0.326, 1442.1,0.295, 1442.7,0.344, 1443.2,0.332, 1443.6,0.333, 1443.9,0.328, 1442.8,0.280,
  1443.1,0.275, 1443.4,0.268, 1443.8,0.285, 1444.0,0.262, 1444.3,0.248, 1444.5,0.275, 1444.8,0.238, 1445.0,0.228,
  1445.3,0.250, 1445.6,0.218, 1445.9,0.210, 1446.1,0.240, 1446.3,0.200, 1446.6,0.195, 1446.9,0.218, 1447.1,0.190,
  1447.3,0.182, 1447.6,0.172, 1447.8,0.200, 1448.0,0.165, 1448.3,0.172, 1448.5,0.160, 1448.8,0.155, 1449.0,0.148,
  1449.3,0.145, 1449.5,0.138, 1449.8,0.140, 1450.0,0.132, 1450.3,0.130, 1450.6,0.210, 1450.7,0.198, 1451.3,0.177,
  1451.6,0.120, 1452.0,0.115, 1447.0,0.320, 1446.0,0.330, 1445.5,0.337, 1444.7,0.345, 1448.8,0.260, 1449.3,0.245,
  1450.5,0.172, 1451.9,0.128, 1445.2,0.207, 1446.7,0.175, 1447.9,0.150, 1447.4,0.118, 1448.9,0.130, 1443.0,0.255,
  1442.6,0.262, 1444.2,0.230, 1441.8,0.275, 1442.3,0.240,
  1443.5,0.255, 1443.7,0.275, 1444.2,0.260, 1444.6,0.245, 1444.9,0.255, 1445.2,0.240, 1445.5,0.225, 1445.8,0.240,
  1446.0,0.218, 1446.4,0.215, 1446.8,0.205, 1447.0,0.200, 1447.4,0.195, 1447.7,0.188, 1448.0,0.175, 1448.4,0.165,
  1448.7,0.168, 1449.1,0.155, 1449.4,0.152, 1449.8,0.130, 1450.2,0.122, 1443.1,0.310, 1443.9,0.310, 1442.7,0.298,
  1442.3,0.315, 1444.6,0.330, 1445.8,0.322, 1446.9,0.310, 1448.2,0.280, 1449.5,0.235, 1450.4,0.205, 1451.2,0.190,
  1442.45,0.285, 1442.85,0.268, 1443.25,0.262, 1443.55,0.248, 1443.95,0.252, 1444.35,0.238, 1444.75,0.225, 1445.05,0.218,
  1445.45,0.212, 1445.75,0.205, 1446.15,0.198, 1446.55,0.185, 1446.95,0.182, 1447.25,0.172, 1447.55,0.160, 1447.95,0.158,
  1448.25,0.148, 1448.65,0.148, 1449.15,0.140, 1449.65,0.148, 1450.05,0.142, 1450.45,0.125, 1450.95,0.112, 1451.45,0.112,
  1443.35,0.340, 1444.25,0.340, 1445.15,0.332, 1446.25,0.325, 1447.45,0.305, 1448.55,0.285, 1449.85,0.248, 1450.85,0.198,
  1442.25,0.340, 1441.95,0.320,
  1444.48,0.252, 1444.98,0.238, 1445.38,0.235, 1445.68,0.228, 1446.18,0.212, 1446.52,0.205, 1446.92,0.196, 1447.38,0.185,
  1447.72,0.176, 1448.12,0.168, 1448.48,0.178, 1448.92,0.162, 1449.38,0.158, 1449.72,0.142, 1450.18,0.135, 1450.72,0.122,
  1443.72,0.258, 1443.28,0.278,
];

const tanH = [
  1442.5,0.318, 1443.0,0.330, 1443.5,0.300, 1443.3,0.285, 1443.9,0.320, 1444.1,0.310, 1444.3,0.295, 1444.6,0.320,
  1444.8,0.290, 1445.1,0.318, 1445.3,0.295, 1445.5,0.265, 1445.8,0.305, 1446.0,0.285, 1446.2,0.255, 1446.4,0.300,
  1446.6,0.280, 1446.7,0.245, 1446.9,0.270, 1447.0,0.225, 1447.2,0.290, 1447.4,0.240, 1447.5,0.262, 1447.7,0.275,
  1447.8,0.230, 1448.0,0.255, 1448.2,0.210, 1448.3,0.248, 1448.4,0.195, 1448.6,0.220, 1448.8,0.240, 1448.9,0.205,
  1449.0,0.182, 1449.1,0.225, 1449.3,0.196, 1449.4,0.222, 1449.6,0.175, 1449.8,0.190, 1450.0,0.210, 1450.1,0.155,
  1450.3,0.195, 1450.4,0.150, 1450.6,0.180, 1450.9,0.160, 1451.1,0.150, 1451.3,0.160, 1451.5,0.128, 1451.7,0.135,
  1450.7,0.128, 1452.0,0.145, 1444.2,0.335, 1445.2,0.320, 1446.3,0.320, 1447.0,0.300, 1448.6,0.270, 1449.9,0.225,
  1450.8,0.208, 1451.4,0.175, 1445.0,0.245, 1446.1,0.230, 1447.1,0.210, 1448.1,0.185, 1449.2,0.160, 1443.7,0.265,
  1444.6,0.255, 1442.9,0.300, 1443.4,0.315, 1447.6,0.180, 1448.8,0.172, 1449.7,0.150, 1446.5,0.215, 1445.4,0.230,
  1450.2,0.140, 1451.0,0.190, 1444.9,0.340, 1443.9,0.250, 1447.9,0.285, 1446.8,0.305, 1450.5,0.120, 1449.5,0.240,
  1448.3,0.268, 1451.6,0.105,
  1443.6,0.310, 1443.8,0.300, 1444.1,0.285, 1444.4,0.275, 1444.7,0.285, 1445.0,0.275, 1445.2,0.262, 1445.5,0.278,
  1445.7,0.255, 1446.0,0.248, 1446.2,0.268, 1446.4,0.242, 1446.7,0.255, 1446.9,0.248, 1447.1,0.245, 1447.3,0.265,
  1447.5,0.232, 1447.7,0.245, 1447.9,0.222, 1448.1,0.232, 1448.3,0.222, 1448.5,0.215, 1448.7,0.208, 1448.9,0.190,
  1449.1,0.170, 1449.3,0.210, 1449.5,0.168, 1449.7,0.205, 1449.9,0.150, 1450.1,0.185, 1450.3,0.170, 1450.5,0.135,
  1450.8,0.155, 1451.0,0.145, 1451.2,0.125, 1451.4,0.128, 1445.5,0.310, 1446.6,0.295, 1447.4,0.285, 1448.2,0.262,
  1449.0,0.245, 1444.4,0.320, 1443.3,0.300, 1442.8,0.315,
  1443.15,0.292, 1443.45,0.278, 1443.65,0.295, 1443.75,0.318, 1444.05,0.302, 1444.25,0.270, 1444.45,0.300, 1444.65,0.268,
  1444.95,0.308, 1445.15,0.296, 1445.35,0.248, 1445.65,0.285, 1445.95,0.262, 1446.15,0.305, 1446.25,0.232, 1446.55,0.262,
  1446.65,0.232, 1446.95,0.260, 1447.05,0.285, 1447.25,0.222, 1447.45,0.245, 1447.65,0.205, 1447.85,0.238, 1448.05,0.198,
  1448.25,0.250, 1448.45,0.205, 1448.65,0.182, 1448.85,0.225, 1449.15,0.212, 1449.35,0.165, 1449.55,0.225, 1449.75,0.195,
  1449.95,0.208, 1450.15,0.170, 1450.35,0.158, 1450.55,0.185, 1450.75,0.150, 1450.95,0.170, 1451.15,0.135, 1451.35,0.150,
  1451.55,0.158, 1451.85,0.152, 1444.55,0.335, 1445.35,0.325, 1446.45,0.312, 1447.35,0.298, 1448.05,0.275, 1448.75,0.255,
  1449.65,0.232, 1450.45,0.210, 1445.75,0.238, 1446.85,0.215, 1447.95,0.192, 1449.05,0.172, 1443.85,0.268, 1442.95,0.325,
  1442.65,0.305, 1444.85,0.322, 1447.75,0.292,
];

const brownI = [
  1443.8,0.296, 1444.2,0.302, 1444.4,0.285, 1444.7,0.308, 1445.0,0.300, 1445.3,0.276, 1445.4,0.311, 1445.6,0.292,
  1445.8,0.276, 1446.0,0.301, 1446.0,0.262, 1446.3,0.285, 1446.5,0.251, 1446.7,0.272, 1446.8,0.258, 1447.0,0.238,
  1447.1,0.265, 1447.3,0.248, 1447.4,0.270, 1447.6,0.250, 1447.7,0.222, 1447.9,0.246, 1448.0,0.230, 1448.2,0.240,
  1448.3,0.215, 1448.5,0.208, 1448.7,0.230, 1448.7,0.200, 1448.9,0.220, 1449.0,0.195, 1449.2,0.215, 1449.3,0.170,
  1449.4,0.205, 1449.6,0.188, 1449.8,0.176, 1449.9,0.200, 1450.0,0.170, 1450.2,0.162, 1450.3,0.178, 1450.5,0.156,
  1450.7,0.170, 1450.8,0.145, 1451.0,0.130, 1451.2,0.145, 1451.4,0.135, 1451.6,0.122, 1451.8,0.140, 1453.3,0.100,
  1446.4,0.238, 1445.7,0.245, 1447.2,0.208, 1448.1,0.198, 1446.9,0.283, 1445.1,0.255, 1444.5,0.268, 1449.7,0.215,
  1450.5,0.190, 1448.6,0.250, 1447.8,0.262, 1450.9,0.180, 1451.7,0.158, 1449.1,0.232, 1446.2,0.316, 1444.0,0.275,
  1443.6,0.282, 1448.0,0.178, 1449.5,0.160, 1450.1,0.145, 1451.3,0.113, 1445.9,0.230, 1447.5,0.195, 1452.0,0.135,
  1444.0,0.290, 1444.3,0.312, 1444.8,0.275, 1445.2,0.285, 1445.4,0.258, 1445.7,0.300, 1445.9,0.270, 1446.1,0.290,
  1446.3,0.270, 1446.5,0.292, 1446.6,0.262, 1446.8,0.240, 1447.0,0.275, 1447.2,0.258, 1447.4,0.230, 1447.6,0.238,
  1447.8,0.250, 1447.9,0.210, 1448.1,0.250, 1448.3,0.230, 1448.4,0.240, 1448.5,0.190, 1448.7,0.185, 1448.9,0.232,
  1449.0,0.180, 1449.1,0.190, 1449.3,0.225, 1449.4,0.175, 1449.6,0.198, 1449.8,0.160, 1450.0,0.190, 1450.1,0.165,
  1450.3,0.145, 1450.4,0.182, 1450.6,0.135, 1450.7,0.160, 1450.9,0.140, 1451.1,0.160, 1451.2,0.120, 1451.5,0.140,
  1446.9,0.230, 1447.5,0.215, 1446.2,0.245, 1445.6,0.252, 1448.2,0.195, 1449.5,0.185, 1443.9,0.305, 1444.6,0.300,
  1445.1,0.308, 1445.8,0.285,
  1443.95,0.283, 1444.15,0.296, 1444.35,0.281, 1444.55,0.312, 1444.75,0.296, 1444.85,0.268, 1445.05,0.290, 1445.25,0.268,
  1445.35,0.302, 1445.55,0.260, 1445.75,0.272, 1445.95,0.295, 1446.05,0.250, 1446.25,0.278, 1446.35,0.295, 1446.45,0.268,
  1446.65,0.250, 1446.85,0.268, 1446.95,0.252, 1447.05,0.262, 1447.25,0.242, 1447.45,0.256, 1447.55,0.228, 1447.75,0.256,
  1447.95,0.236, 1448.05,0.242, 1448.25,0.218, 1448.45,0.232, 1448.55,0.198, 1448.75,0.222, 1448.95,0.210, 1449.05,0.198,
  1449.25,0.208, 1449.45,0.184, 1449.55,0.212, 1449.65,0.168, 1449.85,0.190, 1449.95,0.160, 1450.15,0.180, 1450.25,0.158,
  1450.45,0.172, 1450.55,0.148, 1450.75,0.176, 1450.95,0.152, 1451.05,0.138, 1451.25,0.148, 1451.45,0.120, 1451.65,0.145,
  1451.85,0.130, 1451.95,0.118, 1447.35,0.212, 1448.15,0.205, 1448.85,0.192, 1449.75,0.172, 1446.75,0.223, 1445.85,0.240,
  1447.65,0.266, 1446.55,0.280, 1445.45,0.290, 1444.65,0.282, 1448.65,0.240, 1449.35,0.222, 1450.35,0.196, 1450.85,0.188,
  1451.15,0.172, 1452.15,0.128,
];

const brownJ = [
  1444.6,0.292, 1444.9,0.281, 1445.2,0.296, 1445.0,0.268, 1445.7,0.262, 1446.1,0.248, 1446.4,0.262, 1446.9,0.240,
  1447.2,0.232, 1447.5,0.226, 1447.8,0.238, 1447.9,0.214, 1448.1,0.222, 1448.3,0.205, 1448.5,0.228, 1448.6,0.196,
  1448.8,0.212, 1448.9,0.188, 1449.1,0.203, 1449.2,0.181, 1449.4,0.192, 1449.5,0.176, 1449.6,0.210, 1449.7,0.168,
  1449.9,0.185, 1450.0,0.160, 1450.1,0.175, 1450.2,0.150, 1450.4,0.166, 1450.5,0.143, 1450.6,0.158, 1450.8,0.136,
  1450.9,0.150, 1451.1,0.140, 1451.3,0.124, 1451.5,0.150, 1452.1,0.154, 1452.2,0.117, 1447.0,0.252, 1446.6,0.228,
  1448.0,0.190, 1447.6,0.205, 1449.8,0.198, 1448.4,0.182, 1446.2,0.272, 1445.5,0.285, 1450.3,0.188, 1451.0,0.165,
  1449.0,0.170, 1447.3,0.217,
  1447.4,0.242, 1447.7,0.215, 1448.2,0.228, 1448.4,0.198, 1448.7,0.218, 1448.8,0.180, 1449.0,0.210, 1449.3,0.186,
  1449.5,0.200, 1449.7,0.180, 1450.0,0.178, 1450.2,0.168, 1450.3,0.155, 1450.6,0.145, 1450.9,0.128, 1451.2,0.132,
  1446.7,0.244, 1446.3,0.255, 1447.9,0.226, 1448.6,0.210, 1449.2,0.194, 1449.9,0.168, 1450.7,0.152, 1451.4,0.142,
  1446.0,0.280, 1444.8,0.300, 1445.4,0.270, 1447.1,0.226, 1448.0,0.205, 1448.9,0.198,
  1447.15,0.238, 1447.35,0.224, 1447.55,0.241, 1447.65,0.219, 1447.85,0.204, 1448.05,0.216, 1448.15,0.236, 1448.25,0.193,
  1448.45,0.214, 1448.55,0.203, 1448.65,0.188, 1448.85,0.204, 1448.95,0.178, 1449.15,0.184, 1449.25,0.172, 1449.35,0.206,
  1449.45,0.165, 1449.65,0.190, 1449.75,0.158, 1449.85,0.176, 1450.05,0.184, 1450.15,0.158, 1450.25,0.142, 1450.35,0.170,
  1450.45,0.134, 1450.55,0.162, 1450.75,0.140, 1450.85,0.162, 1451.05,0.148, 1451.25,0.155, 1446.45,0.248, 1446.75,0.258,
  1446.05,0.262, 1445.85,0.254, 1445.25,0.278, 1444.95,0.292, 1445.65,0.276, 1446.55,0.238, 1447.75,0.228, 1448.35,0.223,
  1449.55,0.172, 1450.65,0.128, 1451.35,0.128, 1451.65,0.134, 1452.05,0.142,
];

// intensity of each group, low to high (drawing order)
const intensities = [0.04, 0.13, 0.24, 0.32, 0.42, 0.52, 0.64, 0.74, 0.86, 0.97];
const groups = [
  [...dotsA, ...dotsA2, ...dotsA3],
  dotsB,
  [...plusC, ...plusC2],
  tealD,
  paleE,
  creamF,
  tanG,
  tanH,
  brownI,
  brownJ,
];

// BrBG-like palette, 0 -> 1
const palette = ["#01665e", "#35978f", "#80cdc1", "#c7eae5", "#f6e8c3", "#dfc27d", "#bf812d", "#8c510a"];

function hexToRgb(h: string) {
  const n = parseInt(h.slice(1), 16);
  return [(n >> 16) & 255, (n >> 8) & 255, n & 255];
}

function colorAt(t: number) {
  const pos = Math.min(0.9999, Math.max(0, t)) * (palette.length - 1);
  const k = Math.floor(pos);
  const f = pos - k;
  const a = hexToRgb(palette[k]);
  const b = hexToRgb(palette[k + 1]);
  const c = a.map((v, i) => Math.round(v + (b[i] - v) * f));
  return `rgb(${c[0]},${c[1]},${c[2]})`;
}

const toPoints = (flat: number[]) => {
  const out: { x: number; y: number }[] = [];
  for (let i = 0; i < flat.length; i += 2) out.push({ x: flat[i], y: flat[i + 1] });
  return out;
};

const FONT = "DejaVu Sans";
const W = 829;
const H = 675;
const PLOT = { left: 78, right: 707, top: 16, bottom: 603 };
const TICK = 7;

const diamond = (r: number, fill: string) => (props: any) => {
  const { cx, cy } = props;
  if (cx == null || cy == null) return <g />;
  return (
    <path
      d={`M${cx},${cy - r}L${cx + r},${cy}L${cx},${cy + r}L${cx - r},${cy}Z`}
      fill={fill}
      fillOpacity={0.9}
    />
  );
};

export default function App() {
  const cbLeft = 723;
  const cbRight = 755;
  const cbY = (t: number) => PLOT.bottom - t * (PLOT.bottom - PLOT.top);

  return (
    <div style={{ position: "absolute", left: 0, top: 0, width: W, height: H, background: "#fff" }}>
      <ScatterChart
        width={W}
        height={H}
        margin={{ top: PLOT.top, right: W - PLOT.right, bottom: 0, left: 0 }}
      >
        <XAxis
          xAxisId="b"
          dataKey="x"
          type="number"
          domain={[1440, 1455]}
          ticks={xTicks}
          interval={0}
          height={H - PLOT.bottom}
          tickSize={0}
          tickMargin={0}
          tickLine={false}
          axisLine={{ stroke: "#000" }}
          allowDataOverflow
          tick={(p: any) => (
            <g>
              <line x1={p.x} y1={p.y} x2={p.x} y2={p.y - TICK} stroke="#000" />
              <text x={p.x} y={p.y + 23} textAnchor="middle" fontSize={12.5} fontFamily={FONT} fill="#000">
                {p.payload.value}
              </text>
            </g>
          )}
        />
        <XAxis
          xAxisId="t"
          orientation="top"
          dataKey="x"
          type="number"
          domain={[1440, 1455]}
          ticks={xTicks}
          interval={0}
          height={0}
          tickSize={0}
          tickMargin={0}
          tickLine={false}
          axisLine={{ stroke: "#000" }}
          tick={(p: any) => <line x1={p.x} y1={p.y} x2={p.x} y2={p.y + TICK} stroke="#000" />}
        />
        <YAxis
          yAxisId="l"
          dataKey="y"
          type="number"
          domain={[0, 0.35]}
          ticks={yTicks}
          interval={0}
          width={PLOT.left}
          tickSize={0}
          tickMargin={0}
          tickLine={false}
          axisLine={{ stroke: "#000" }}
          allowDataOverflow
          tick={(p: any) => (
            <g>
              <line x1={p.x} y1={p.y} x2={p.x + TICK} y2={p.y} stroke="#000" />
              <text x={p.x - 9} y={p.y + 4.5} textAnchor="end" fontSize={12.5} fontFamily={FONT} fill="#000">
                {String(p.payload.value)}
              </text>
            </g>
          )}
        />
        <YAxis
          yAxisId="r"
          orientation="right"
          dataKey="y"
          type="number"
          domain={[0, 0.35]}
          ticks={yTicks}
          interval={0}
          width={0}
          tickSize={0}
          tickMargin={0}
          tickLine={false}
          axisLine={{ stroke: "#000" }}
          tick={(p: any) => <line x1={p.x} y1={p.y} x2={p.x - TICK} y2={p.y} stroke="#000" />}
        />
        <Scatter xAxisId="t" yAxisId="r" data={[]} isAnimationActive={false} />
        {groups.map((flat, k) => {
          const t = intensities[k];
          const r = 1.3 + 5 * t;
          return (
            <Scatter
              key={k}
              xAxisId="b"
              yAxisId="l"
              data={toPoints(flat)}
              isAnimationActive={false}
              shape={diamond(r, colorAt(t))}
            />
          );
        })}
        <ReferenceLine xAxisId="b" yAxisId="l" x={markShift} stroke="#000" strokeWidth={1} />
        <ReferenceLine xAxisId="b" yAxisId="l" y={markWeight} stroke="#000" strokeWidth={1} />
      </ScatterChart>

      <svg
        width={W}
        height={H}
        style={{ position: "absolute", left: 0, top: 0, pointerEvents: "none" }}
      >
        <defs>
          <linearGradient id="cbGrad" x1="0" y1="1" x2="0" y2="0">
            {palette.map((c, k) => (
              <stop key={k} offset={k / (palette.length - 1)} stopColor={c} />
            ))}
          </linearGradient>
        </defs>
        <rect
          x={cbLeft + 0.5}
          y={PLOT.top + 0.5}
          width={cbRight - cbLeft - 1}
          height={PLOT.bottom - PLOT.top - 1}
          fill="url(#cbGrad)"
          stroke="#000"
        />
        {cbTicks.map((t) => (
          <g key={t}>
            {t > 0 && t < 1 && (
              <>
                <line x1={cbLeft} y1={cbY(t)} x2={cbLeft + 6} y2={cbY(t)} stroke="#000" />
                <line x1={cbRight - 6} y1={cbY(t)} x2={cbRight} y2={cbY(t)} stroke="#000" />
              </>
            )}
            <text x={767} y={cbY(t) + 4.5} fontSize={12.5} fontFamily={FONT} fill="#000">
              {String(t)}
            </text>
          </g>
        ))}

        <text x={393} y={668} textAnchor="middle" fontSize={29} fontFamily={FONT} fill="#000">
          Raman shift [ cm
          <tspan fontSize={20} dy={-11}>-1</tspan>
          <tspan dy={11}> ]</tspan>
        </text>
        <text transform="translate(37,310) rotate(-90)" textAnchor="middle" fontSize={29} fontFamily={FONT} fill="#000">
          <tspan fontSize={20} dy={-11}>13</tspan>
          <tspan dy={11}>C weight of normal mode</tspan>
        </text>
        <text transform="translate(820,311) rotate(-90)" textAnchor="middle" fontSize={29} fontFamily={FONT} fill="#000">
          Raman intensity [ a.u. ]
        </text>
      </svg>
    </div>
  );
}
